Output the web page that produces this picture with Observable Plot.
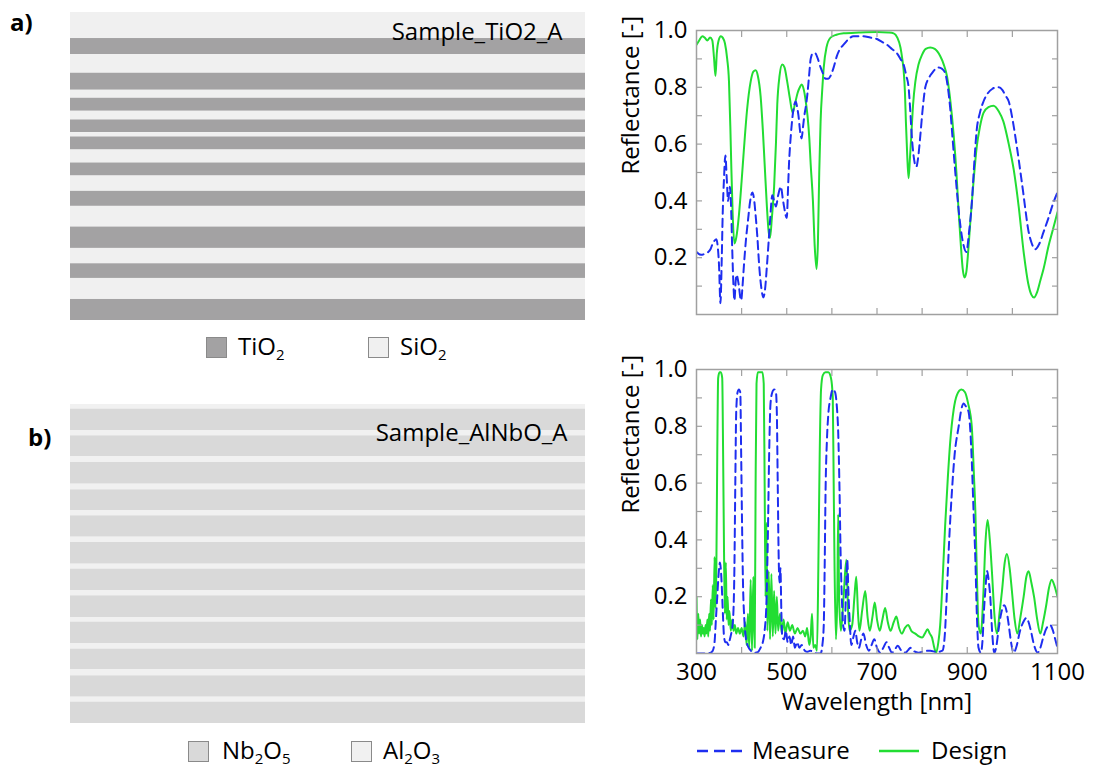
<!DOCTYPE html>
<html><head><meta charset="utf-8">
<script src="https://cdn.jsdelivr.net/npm/d3@7"></script>
<script src="https://cdn.jsdelivr.net/npm/@observablehq/plot@0.6"></script>
<style>
html,body{margin:0;padding:0;background:#fff;}
#root{position:relative;width:1096px;height:769px;overflow:hidden;font-family:"Open Sans",sans-serif;color:#000;}
.sw{position:absolute;width:21px;height:21px;box-sizing:border-box;border:1.5px solid #8a8a8a;}
.lg{position:absolute;font-size:24px;line-height:24px;white-space:nowrap;}
.lg sub{font-size:15px;vertical-align:-5px;line-height:0;}
.tag{position:absolute;font-size:24px;font-weight:bold;line-height:24px;}
</style></head>
<body>
<div id="root"></div>
<script>
// ---------- data ----------
const sampleA = "Sample_TiO2_A";
const sampleB = "Sample_AlNbO_A";
// layer stacks, listed from top to bottom (relative thickness)
const materialsA = ["SiO2","TiO2","SiO2","TiO2","SiO2","TiO2","SiO2","TiO2","SiO2","TiO2","SiO2","TiO2","SiO2","TiO2","SiO2","TiO2","SiO2","TiO2","SiO2","TiO2"];
const thicknessA = [78,48,56,51,24,39,26,38,13,39,39,39,46,45,62,64,46,44,63,63];
const materialsB = ["Al2O3","Nb2O5","Al2O3","Nb2O5","Al2O3","Nb2O5","Al2O3","Nb2O5","Al2O3","Nb2O5","Al2O3","Nb2O5","Al2O3","Nb2O5","Al2O3","Nb2O5","Al2O3","Nb2O5","Al2O3","Nb2O5","Al2O3","Nb2O5","Al2O3","Nb2O5"];
const thicknessB = [14,64,16,63,17,65,17,62,16,64,16,65,15,64,16,66,13,64,17,62,18,64,15,64];

// spectra: [wavelength nm, reflectance]
const designA = [[300,0.95],[306,0.965],[313,0.98],[318,0.975],[324,0.965],[330,0.975],[335,0.965],[339,0.9],[342,0.84],[345,0.92],[349,0.965],[354,0.98],[358,0.975],[363,0.955],[368,0.9],[372,0.82],[375,0.66],[377,0.53],[380,0.36],[384,0.25],[388,0.27],[394,0.35],[400,0.47],[405,0.58],[412,0.72],[420,0.82],[426,0.855],[431,0.86],[436,0.84],[442,0.77],[447,0.65],[451,0.53],[456,0.38],[460,0.29],[463,0.27],[467,0.34],[472,0.45],[476,0.6],[479,0.74],[484,0.84],[490,0.88],[495,0.87],[501,0.82],[507,0.76],[513,0.71],[518,0.74],[524,0.78],[529,0.8],[533,0.81],[538,0.79],[543,0.74],[546,0.7],[550,0.62],[553,0.53],[558,0.4],[562,0.24],[566,0.16],[569,0.25],[572,0.5],[575,0.68],[579,0.8],[582,0.87],[588,0.94],[597,0.975],[610,0.985],[626,0.99],[660,0.993],[700,0.995],[725,0.993],[737,0.99],[745,0.975],[752,0.94],[756,0.9],[759,0.86],[762,0.78],[764,0.68],[767,0.56],[770,0.48],[773,0.55],[776,0.63],[780,0.74],[785,0.82],[792,0.88],[800,0.915],[808,0.935],[818,0.94],[828,0.935],[840,0.91],[848,0.88],[855,0.84],[862,0.76],[866,0.7],[870,0.63],[876,0.5],[881,0.36],[886,0.24],[890,0.16],[894,0.13],[898,0.15],[902,0.22],[907,0.33],[914,0.47],[921,0.59],[928,0.66],[936,0.71],[947,0.73],[958,0.735],[970,0.715],[980,0.68],[992,0.6],[1003,0.51],[1014,0.38],[1025,0.22],[1035,0.11],[1042,0.07],[1048,0.06],[1055,0.08],[1062,0.12],[1069,0.16],[1080,0.24],[1090,0.3],[1100,0.36]];
const measureA = [[300,0.22],[310,0.21],[320,0.215],[326,0.22],[331,0.23],[336,0.25],[340,0.26],[344,0.265],[347,0.24],[350,0.17],[353,0.04],[356,0.2],[358,0.35],[361,0.48],[364,0.56],[367,0.48],[370,0.4],[374,0.45],[377,0.36],[379,0.24],[382,0.1],[384,0.05],[387,0.12],[389,0.14],[392,0.12],[394,0.1],[397,0.06],[399,0.05],[402,0.1],[405,0.17],[410,0.27],[414,0.33],[419,0.4],[424,0.43],[428,0.4],[431,0.35],[435,0.27],[439,0.17],[444,0.09],[448,0.06],[452,0.09],[456,0.17],[460,0.26],[463,0.33],[468,0.42],[472,0.4],[476,0.38],[481,0.42],[487,0.45],[491,0.41],[494,0.38],[500,0.34],[503,0.45],[505,0.53],[509,0.63],[513,0.7],[517,0.74],[520,0.75],[523,0.73],[526,0.7],[530,0.64],[533,0.62],[536,0.66],[539,0.7],[543,0.74],[546,0.78],[550,0.85],[553,0.9],[558,0.92],[563,0.92],[569,0.9],[575,0.87],[580,0.85],[586,0.83],[592,0.83],[597,0.84],[604,0.87],[611,0.91],[618,0.935],[626,0.95],[637,0.97],[648,0.98],[660,0.98],[670,0.98],[685,0.975],[700,0.97],[711,0.96],[722,0.95],[733,0.935],[744,0.92],[752,0.9],[759,0.88],[765,0.84],[770,0.8],[774,0.71],[777,0.63],[781,0.56],[787,0.52],[791,0.55],[796,0.63],[801,0.72],[807,0.8],[814,0.83],[822,0.85],[830,0.865],[837,0.87],[844,0.865],[851,0.85],[857,0.8],[862,0.73],[867,0.63],[873,0.51],[879,0.4],[885,0.31],[891,0.25],[898,0.22],[904,0.29],[910,0.39],[915,0.52],[921,0.65],[928,0.71],[936,0.75],[946,0.78],[956,0.795],[964,0.8],[970,0.8],[978,0.79],[985,0.77],[992,0.75],[1000,0.69],[1010,0.59],[1018,0.5],[1024,0.43],[1028,0.38],[1035,0.3],[1043,0.25],[1051,0.23],[1060,0.25],[1069,0.29],[1080,0.34],[1090,0.39],[1100,0.43]];
const designB = [[300,0.2],[302,0.05],[304,0.14],[306,0.07],[308,0.12],[310,0.06],[312,0.1],[314,0.07],[316,0.09],[318,0.06],[320,0.1],[322,0.07],[324,0.12],[326,0.06],[328,0.14],[330,0.08],[332,0.19],[334,0.1],[336,0.24],[338,0.12],[340,0.34],[342,0.16],[344,0.3],[346,0.7],[348,0.97],[351,0.99],[354,0.99],[357,0.97],[359,0.7],[361,0.36],[363,0.14],[365,0.32],[367,0.12],[369,0.2],[371,0.1],[373,0.15],[376,0.08],[379,0.12],[382,0.08],[385,0.1],[388,0.07],[392,0.09],[396,0.07],[400,0.09],[404,0.06],[408,0.11],[411,0.03],[414,0.14],[417,0.02],[420,0.26],[423,0.01],[426,0.27],[429,0.02],[431,0.6],[433,0.95],[436,0.99],[441,0.99],[446,0.99],[449,0.95],[451,0.6],[453,0.2],[455,0.46],[457,0.08],[460,0.29],[463,0.05],[466,0.28],[469,0.06],[472,0.22],[475,0.07],[478,0.2],[481,0.08],[485,0.14],[489,0.07],[493,0.12],[497,0.07],[502,0.11],[507,0.08],[512,0.1],[518,0.07],[524,0.09],[530,0.07],[536,0.08],[541,0.06],[545,0.09],[550,0.03],[553,0.06],[556,0.14],[559,0.02],[563,0.03],[567,0.01],[570,0.3],[573,0.7],[576,0.93],[580,0.98],[586,0.99],[592,0.99],[598,0.97],[602,0.9],[604,0.6],[606,0.3],[609,0.05],[612,0.2],[614,0.49],[616,0.2],[620,0.08],[626,0.2],[632,0.33],[636,0.15],[639,0.08],[645,0.1],[650,0.2],[654,0.27],[658,0.14],[661,0.08],[667,0.15],[674,0.22],[679,0.13],[684,0.08],[690,0.13],[695,0.18],[700,0.12],[706,0.08],[712,0.12],[718,0.16],[724,0.11],[730,0.08],[737,0.11],[743,0.13],[749,0.09],[755,0.07],[762,0.09],[769,0.1],[776,0.08],[785,0.07],[793,0.06],[800,0.056],[806,0.07],[812,0.085],[817,0.07],[822,0.056],[827,0.02],[831,0.003],[836,0.04],[840,0.1],[846,0.28],[851,0.45],[857,0.62],[862,0.74],[870,0.86],[877,0.91],[887,0.93],[895,0.92],[902,0.88],[910,0.8],[915,0.62],[918,0.5],[921,0.3],[925,0.1],[930,0.07],[936,0.22],[940,0.38],[945,0.47],[950,0.4],[955,0.28],[961,0.12],[966,0.07],[972,0.15],[977,0.22],[983,0.32],[988,0.35],[994,0.3],[999,0.22],[1005,0.12],[1011,0.07],[1018,0.13],[1025,0.2],[1031,0.27],[1036,0.29],[1042,0.25],[1048,0.2],[1055,0.12],[1062,0.07],[1068,0.11],[1075,0.17],[1081,0.23],[1087,0.26],[1093,0.24],[1100,0.2]];
const measureB = [[300,0],[310,0],[320,0],[330,0.002],[336,0.01],[340,0.04],[343,0.12],[346,0.2],[349,0.28],[352,0.32],[355,0.27],[357,0.2],[359,0.12],[361,0.06],[364,0.04],[367,0.04],[371,0.03],[374,0.05],[378,0.08],[381,0.12],[384,0.3],[386,0.6],[388,0.85],[391,0.92],[394,0.93],[397,0.92],[399,0.7],[401,0.45],[403,0.25],[406,0.12],[409,0.06],[413,0.03],[418,0.015],[424,0.005],[430,0.003],[436,0.005],[442,0.02],[447,0.04],[451,0.08],[455,0.18],[458,0.4],[461,0.7],[464,0.88],[468,0.92],[472,0.93],[476,0.92],[478,0.85],[480,0.6],[482,0.35],[484,0.25],[486,0.3],[488,0.15],[490,0.06],[494,0.05],[498,0.08],[502,0.04],[506,0.06],[510,0.03],[514,0.06],[518,0.02],[523,0.04],[528,0.02],[533,0.03],[540,0.01],[546,0.006],[552,0.01],[560,0.003],[568,0],[575,0],[579,0.03],[582,0.1],[584,0.3],[586,0.57],[589,0.75],[592,0.84],[597,0.9],[602,0.93],[607,0.92],[611,0.87],[614,0.78],[617,0.57],[619,0.38],[622,0.2],[625,0.1],[628,0.08],[631,0.2],[634,0.33],[637,0.2],[640,0.1],[643,0.03],[648,0.06],[652,0.08],[656,0.04],[660,0.02],[665,0.05],[670,0.07],[676,0.03],[682,0.01],[688,0.03],[694,0.05],[700,0.02],[707,0.003],[714,0.02],[721,0.04],[727,0.02],[733,0.003],[740,0.015],[746,0.027],[754,0.01],[763,0.003],[769,0.012],[774,0.02],[782,0.008],[792,0.003],[805,0.008],[818,0.01],[832,0.005],[845,0.01],[850,0.06],[855,0.22],[860,0.4],[866,0.57],[872,0.7],[881,0.8],[887,0.86],[892,0.88],[897,0.87],[903,0.85],[907,0.78],[910,0.68],[914,0.5],[918,0.33],[921,0.15],[925,0.02],[930,0.003],[934,0.05],[937,0.15],[940,0.22],[944,0.29],[948,0.25],[951,0.2],[955,0.08],[960,0.003],[965,0.03],[969,0.08],[975,0.14],[982,0.17],[987,0.15],[992,0.1],[997,0.04],[1003,0.003],[1010,0.03],[1017,0.08],[1024,0.11],[1031,0.125],[1036,0.11],[1041,0.08],[1048,0.03],[1056,0.003],[1062,0.02],[1069,0.06],[1076,0.09],[1084,0.1],[1090,0.08],[1095,0.05],[1100,0.02]];

const yLabelTicks = [0.2, 0.4, 0.6, 0.8, 1.0];
const yMinorTicks = [0.1, 0.2, 0.3, 0.4, 0.5, 0.6, 0.7, 0.8, 0.9];
const xLabelTicks = [300, 500, 700, 900, 1100];
const xMinorTicks = [400, 500, 600, 700, 800, 900, 1000];
const yTitle = "Reflectance [-]";
const xTitle = "Wavelength [nm]";
const seriesNames = ["Measure", "Design"];

const GREEN = "#22dd33", BLUE = "#1e2ef0", FRAME = "#a0a0a0";
const FONT = "Open Sans";

const root = document.getElementById("root");
function place(el, left, top) { el.style.position = "absolute"; el.style.left = left + "px"; el.style.top = top + "px"; root.appendChild(el); return el; }

// ---------- layer stacks ----------
function stack(materials, thickness, label, colorDomain, colorRange, w, h, dx, dy) {
  const data = materials.map((m, i) => ({sample: label, material: m, thickness: thickness[i]}));
  return Plot.plot({
    width: w, height: h, margin: 0,
    style: {fontFamily: FONT, background: "transparent", color: "#000"},
    x: {axis: null, type: "band", padding: 0},
    y: {axis: null, reverse: true},
    color: {domain: colorDomain, range: colorRange},
    marks: [
      Plot.barY(data, {x: "sample", y: "thickness", fill: "material", order: null}),
      Plot.text([label], {frameAnchor: "top-right", textAnchor: "end", lineAnchor: "middle", dx, dy, fontSize: 24, fill: "#000"})
    ]
  });
}
place(stack(materialsA, thicknessA, sampleA, ["TiO2","SiO2"], ["#a3a2a3","#f0f0f0"], 515, 308, -23, 20), 70, 12);
place(stack(materialsB, thicknessB, sampleB, ["Nb2O5","Al2O3"], ["#d9d9d9","#f1f1f1"], 515, 319, -18, 29), 70, 404);

// ---------- spectra ----------
function spectrum(design, measure, showX) {
  const marginTop = 30, marginLeft = 86, marginRight = 23, marginBottom = showX ? 78 : 16;
  const tickStyle = {stroke: FRAME, strokeWidth: 1.2, fill: "none", label: null, tickSize: -6};
  return Plot.plot({
    width: 470, height: marginTop + 284 + marginBottom,
    marginTop, marginLeft, marginRight, marginBottom,
    style: {fontFamily: FONT, background: "transparent", color: "#000", overflow: "visible"},
    x: {domain: [300, 1100]},
    y: {domain: [0, 1]},
    marks: [
      Plot.line(design, {x: d => d[0], y: d => d[1], stroke: GREEN, strokeWidth: 2, curve: "monotone-x", clip: true}),
      Plot.line(measure, {x: d => d[0], y: d => d[1], stroke: BLUE, strokeWidth: 2, strokeDasharray: "8,5", curve: "monotone-x", clip: true}),
      Plot.frame({stroke: FRAME, strokeWidth: 1.5}),
      Plot.axisY(yMinorTicks, {anchor: "left", ...tickStyle}),
      Plot.axisY(yMinorTicks, {anchor: "right", ...tickStyle}),
      Plot.axisX(xMinorTicks, {anchor: "bottom", ...tickStyle}),
      Plot.axisX(xMinorTicks, {anchor: "top", ...tickStyle}),
      Plot.axisY(yLabelTicks, {anchor: "left", tickSize: 0, tickPadding: 9, tickFormat: d3.format(".1f"), fontSize: 24, label: null, fill: "#000"}),
      showX ? Plot.axisX(xLabelTicks, {anchor: "bottom", tickSize: 0, tickPadding: 9, fontSize: 24, label: null, fill: "#000", tickFormat: d => String(d)}) : null,
      Plot.text([yTitle], {frameAnchor: "left", rotate: -90, dx: -65, dy: 2, fontSize: 24, fill: "#000"}),
      showX ? Plot.text([xTitle], {frameAnchor: "bottom", dy: 56, fontSize: 24, fill: "#000"}) : null
    ]
  });
}
place(spectrum(designA, measureA, false), 610, 0);
place(spectrum(designB, measureB, true), 610, 339);

// ---------- legends ----------
function swatch(left, top, fill) { const d = document.createElement("div"); d.className = "sw"; d.style.background = fill; return place(d, left, top); }
function label(left, top, html, cls) { const d = document.createElement("div"); d.className = cls || "lg"; d.innerHTML = html; return place(d, left, top); }
swatch(206, 337, "#a3a2a3"); label(238, 334, "TiO<sub>2</sub>");
swatch(368, 337, "#f0f0f0"); label(400, 334, "SiO<sub>2</sub>");
swatch(188, 741, "#d9d9d9"); label(222, 738, "Nb<sub>2</sub>O<sub>5</sub>");
swatch(351, 741, "#f1f1f1"); label(383, 738, "Al<sub>2</sub>O<sub>3</sub>");
label(10, 10, "a)", "tag");
label(28, 425, "b)", "tag");

// line legend
const ns = "http://www.w3.org/2000/svg";
function lineKey(left, top, width, color, dash) {
  const s = document.createElementNS(ns, "svg"); s.setAttribute("width", width); s.setAttribute("height", 8);
  const l = document.createElementNS(ns, "line");
  l.setAttribute("x1", 0); l.setAttribute("x2", width); l.setAttribute("y1", 4); l.setAttribute("y2", 4);
  l.setAttribute("stroke", color); l.setAttribute("stroke-width", 2.5);
  if (dash) l.setAttribute("stroke-dasharray", dash);
  s.appendChild(l); return place(s, left, top);
}
lineKey(697, 747, 45, BLUE, "11,6");
label(752, 738, seriesNames[0]);
lineKey(879, 747, 40, GREEN, null);
label(931, 738, seriesNames[1]);
</script>
</body></html>
